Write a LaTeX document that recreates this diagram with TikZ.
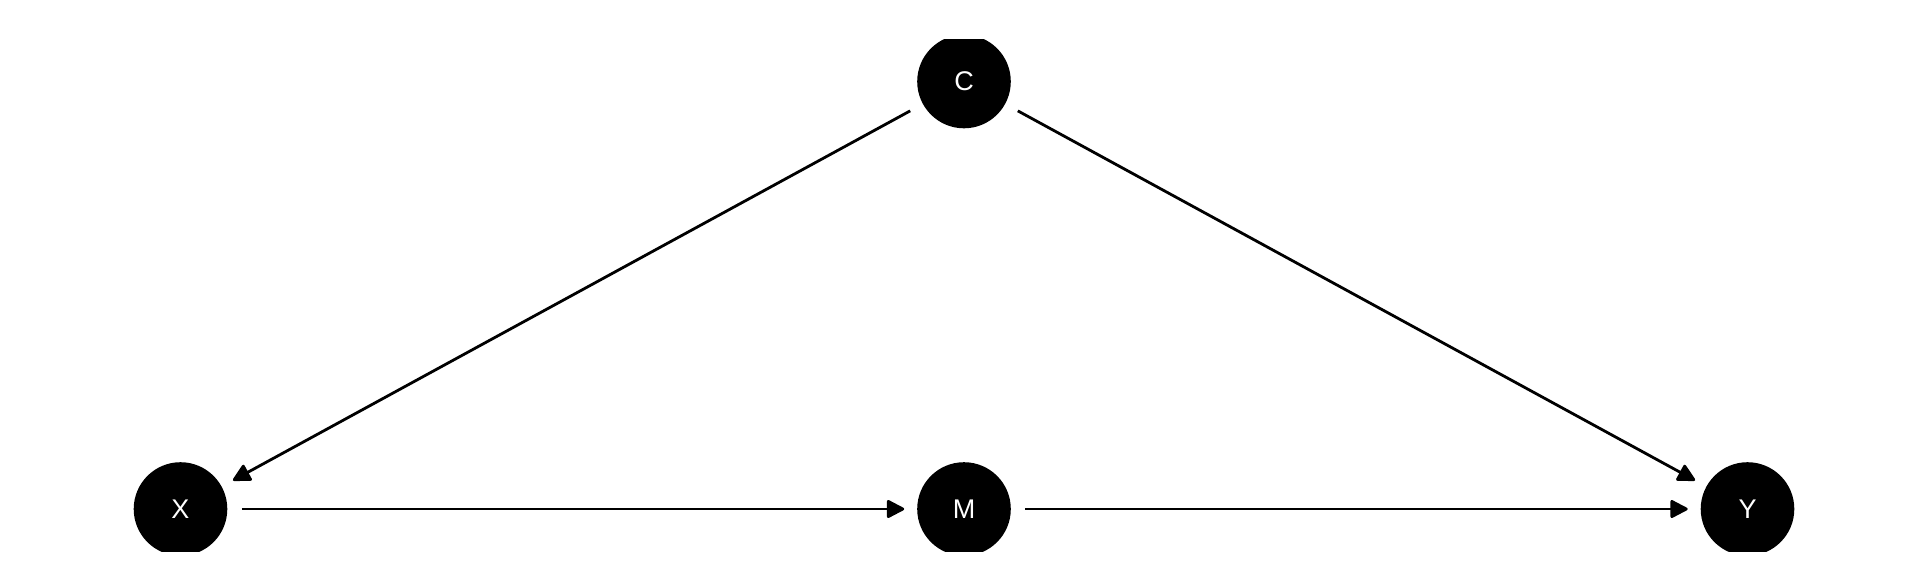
\documentclass[tikz,border=0pt]{standalone}
\usepackage{fontspec}
\setmainfont{Liberation Sans}
\usetikzlibrary{arrows.meta}
\begin{document}
\begin{tikzpicture}[x=1pt,y=-1pt,
  dagnode/.style={circle,fill=black,draw=none,minimum size=93.6pt,inner sep=0pt,outer sep=0pt,
    text=white,font=\fontsize{27}{30}\selectfont},
  dagedge/.style={line width=2.8pt,-{Triangle[length=19pt,width=19pt,line join=round]},
    shorten <=14.5pt,shorten >=13pt}]
\useasboundingbox (0,0) rectangle (1920,576);
\begin{scope}
\clip (0,39.5) rectangle (1920,551.7);
\node[dagnode] (C) at (964,81.5) {C};
\node[dagnode] (X) at (180.5,509) {X};
\node[dagnode] (M) at (964,509) {M};
\node[dagnode] (Y) at (1747.5,509) {Y};
\end{scope}
\draw[dagedge] (C) -- (X);
\draw[dagedge] (C) -- (Y);
\draw[dagedge] (X) -- (M);
\draw[dagedge] (M) -- (Y);
\end{tikzpicture}
\end{document}
